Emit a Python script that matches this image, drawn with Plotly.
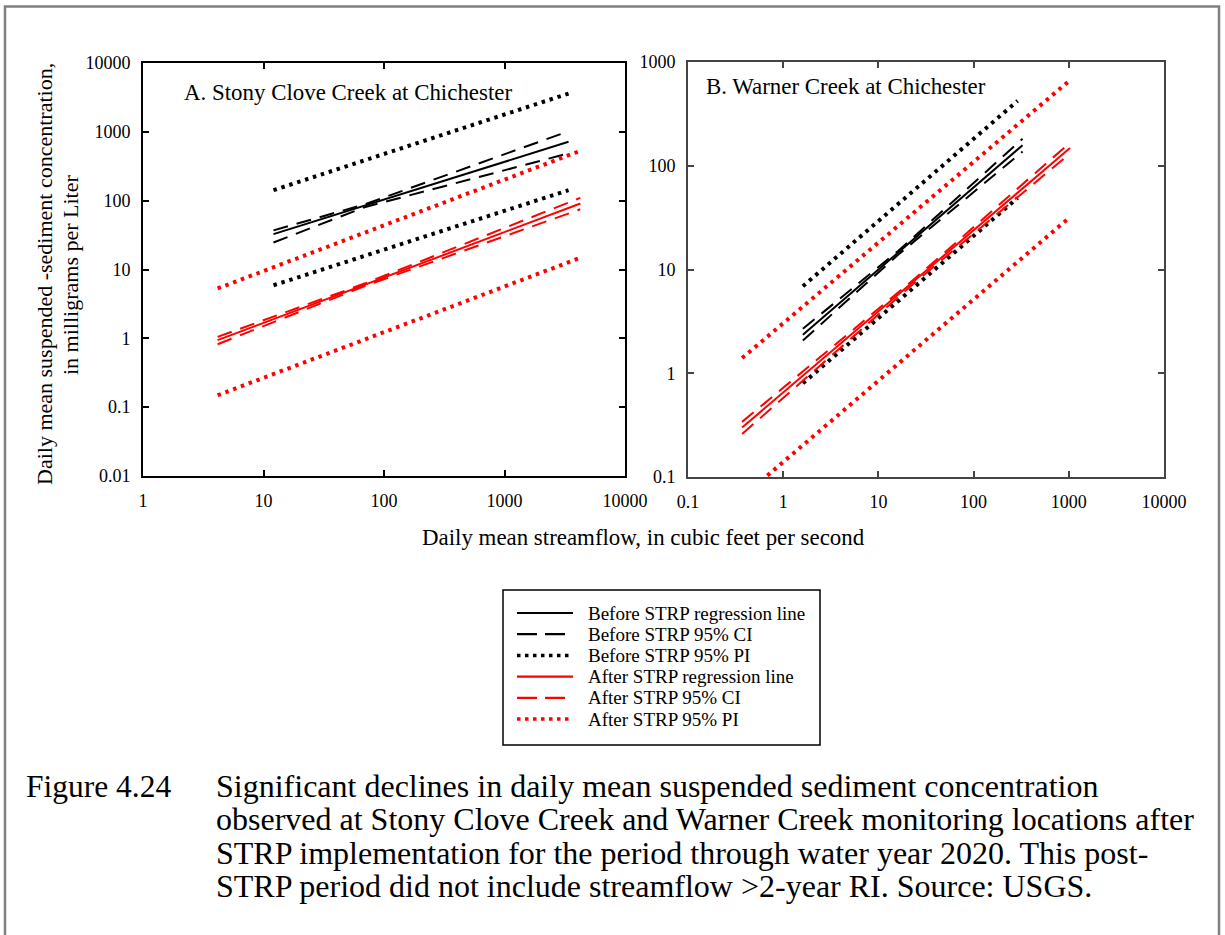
import plotly.graph_objects as go

FONT = "Liberation Serif"
W, H = 1225, 935

# ---- Panel A: Stony Clove Creek (streamflow cfs, concentration mg/L)
a_before_q = [12.1, 70, 3400]
a_before_reg = [32.6, 85, 716]
a_before_ci_up = [37, 89, 1020]
a_before_ci_lo = [24.7, 81, 486]
a_before_pi_q = [12.1, 3400]
a_before_pi_up = [142, 3600]
a_before_pi_lo = [5.9, 142]

a_after_q = [4.16, 70, 4260]
a_after_reg = [0.94, 6.04, 91]
a_after_ci_up = [1.05, 6.3, 110]
a_after_ci_lo = [0.82, 5.8, 75]
a_after_pi_q = [4.16, 4260]
a_after_pi_up = [5.3, 530]
a_after_pi_lo = [0.149, 14.8]

# ---- Panel B: Warner Creek
b_before_q = [1.61, 16, 327]
b_before_reg = [2.35, 14.4, 158]
b_before_ci_up = [2.68, 15.0, 182]
b_before_ci_lo = [2.07, 13.8, 137]
b_before_pi_q = [1.61, 290]
b_before_pi_up = [6.9, 422]
b_before_pi_lo = [0.80, 49]

b_after_q = [0.37, 25, 1030]
b_after_reg = [0.30, 8.05, 148]
b_after_ci_up = [0.34, 8.4, 167]
b_after_ci_lo = [0.26, 7.7, 131]
b_after_pi_q = [0.37, 1030]
b_after_pi_up = [1.40, 668]
b_after_pi_lo = [0.064, 32]

a_xticks = [1, 10, 100, 1000, 10000]
a_yticks = [0.01, 0.1, 1, 10, 100, 1000, 10000]
b_xticks = [0.1, 1, 10, 100, 1000, 10000]
b_yticks = [0.1, 1, 10, 100, 1000]

legend_names = ["Before STRP regression line", "Before STRP 95% CI", "Before STRP 95% PI",
                "After STRP regression line", "After STRP 95% CI", "After STRP 95% PI"]
legend_colors = ["black", "black", "black", "red", "red", "red"]
legend_dashes = ["solid", "20px,8px", "3.5px,4.5px", "solid", "20px,8px", "3.5px,4.5px"]

caption_lines = [
    "Significant declines in daily mean suspended sediment concentration",
    "observed at Stony Clove Creek and Warner Creek monitoring locations after",
    "STRP implementation for the period through water year 2020. This post-",
    "STRP period did not include streamflow &gt;2-year RI. Source: USGS.",
]

DASH = "15px,9px"
DOT = "3.5px,4.8px"

fig = go.Figure()


def add_panel(xa, ya, bq, breg, bup, blo, bpq, bpup, bplo,
              aq, areg, aup, alo, apq, apup, aplo):
    specs = [
        (bq, breg, "black", "solid", 2),
        (bq, bup, "black", DASH, 2),
        (bq, blo, "black", DASH, 2),
        (bpq, bpup, "black", DOT, 4),
        (bpq, bplo, "black", DOT, 4),
        (aq, areg, "red", "solid", 2),
        (aq, aup, "red", DASH, 2),
        (aq, alo, "red", DASH, 2),
        (apq, apup, "red", DOT, 4),
        (apq, aplo, "red", DOT, 4),
    ]
    for x, y, col, dash, w in specs:
        fig.add_trace(go.Scatter(
            x=x, y=y, mode="lines", xaxis=xa, yaxis=ya,
            line=dict(color=col, dash=dash, width=w),
            showlegend=False, hoverinfo="skip"
        ))


add_panel("x", "y", a_before_q, a_before_reg, a_before_ci_up, a_before_ci_lo,
          a_before_pi_q, a_before_pi_up, a_before_pi_lo,
          a_after_q, a_after_reg, a_after_ci_up, a_after_ci_lo,
          a_after_pi_q, a_after_pi_up, a_after_pi_lo)
add_panel("x2", "y2", b_before_q, b_before_reg, b_before_ci_up, b_before_ci_lo,
          b_before_pi_q, b_before_pi_up, b_before_pi_lo,
          b_after_q, b_after_reg, b_after_ci_up, b_after_ci_lo,
          b_after_pi_q, b_after_pi_up, b_after_pi_lo)


def fmt(v):
    return str(v) if v < 1 else str(int(v))


def axis(domain, rng, ticks, anchor, color):
    return dict(
        type="log", domain=domain, range=rng, anchor=anchor,
        tickvals=ticks, ticktext=[fmt(t) for t in ticks],
        ticks="inside", ticklen=6, tickwidth=1.5, tickcolor=color,
        showline=True, linecolor=color, linewidth=1.8, mirror="allticks",
        showgrid=False, zeroline=False, ticklabelstandoff=7,
        tickfont=dict(family=FONT, size=18, color="black"),
    )


fig.update_layout(
    width=W, height=H,
    margin=dict(l=0, r=0, t=0, b=0, autoexpand=False),
    plot_bgcolor="white", paper_bgcolor="white",
    font=dict(family=FONT, color="black"),
    xaxis=axis([143 / W, 625 / W], [0, 4], a_xticks, "y", "black"),
    yaxis=axis([1 - 476 / H, 1 - 63 / H], [-2, 4], a_yticks, "x", "black"),
    xaxis2=axis([688 / W, 1164 / W], [-1, 4], b_xticks, "y2", "#444444"),
    yaxis2=axis([1 - 477 / H, 1 - 62 / H], [-1, 3], b_yticks, "x2", "#444444"),
    showlegend=False,
)

# frame round the whole figure and the legend box
fig.add_shape(type="rect", xref="paper", yref="paper",
              x0=5 / W, x1=1219 / W, y0=-0.05, y1=1 - 6.5 / H,
              line=dict(color="#808080", width=2.5))
fig.add_shape(type="rect", xref="paper", yref="paper",
              x0=503 / W, x1=820 / W, y0=1 - 745 / H, y1=1 - 590 / H,
              line=dict(color="black", width=1.5))

# legend: samples and labels
legend_rows = [613, 634.2, 655.4, 676.6, 697.8, 719]
for name, col, dash, row in zip(legend_names, legend_colors, legend_dashes, legend_rows):
    fig.add_shape(type="line", xref="paper", yref="paper",
                  x0=517 / W, x1=573 / W, y0=1 - row / H, y1=1 - row / H,
                  line=dict(color=col, dash=dash, width=3.5 if dash.startswith("3") else 2.2))
    fig.add_annotation(text=name, x=586 / W, y=1 - row / H, xref="paper", yref="paper",
                       xanchor="left", yanchor="middle", showarrow=False,
                       font=dict(family=FONT, size=19, color="black"))

ann = [
    dict(text="A. Stony Clove Creek at Chichester", x=182 / W, y=1 - 92 / H,
         xanchor="left", font=dict(size=22.9)),
    dict(text="B. Warner Creek at Chichester", x=704 / W, y=1 - 87 / H,
         xanchor="left", font=dict(size=22.9)),
    dict(text="Daily mean streamflow, in cubic feet per second", x=643 / W, y=1 - 537 / H,
         xanchor="center", font=dict(size=22.9)),
    dict(text="Daily mean suspended -sediment concentration,",
         x=45 / W, y=1 - 274 / H, xanchor="center", textangle=-90, font=dict(size=22)),
    dict(text="in milligrams per Liter",
         x=70 / W, y=1 - 275 / H, xanchor="center", textangle=-90, font=dict(size=22)),
    dict(text="Figure 4.24", x=24 / W, y=1 - 786 / H, xanchor="left", font=dict(size=31.5)),
]
for i, line in enumerate(caption_lines):
    ann.append(dict(text=line, x=214 / W, y=1 - (786 + 33.3 * i) / H,
                    xanchor="left", font=dict(size=32)))
for a in ann:
    a.update(xref="paper", yref="paper", yanchor="middle", showarrow=False)
    a["font"].update(family=FONT, color="black")
    fig.add_annotation(**a)

fig.write_html("out.html", config={"displayModeBar": False},
               post_script="document.body.style.margin='0px';")
